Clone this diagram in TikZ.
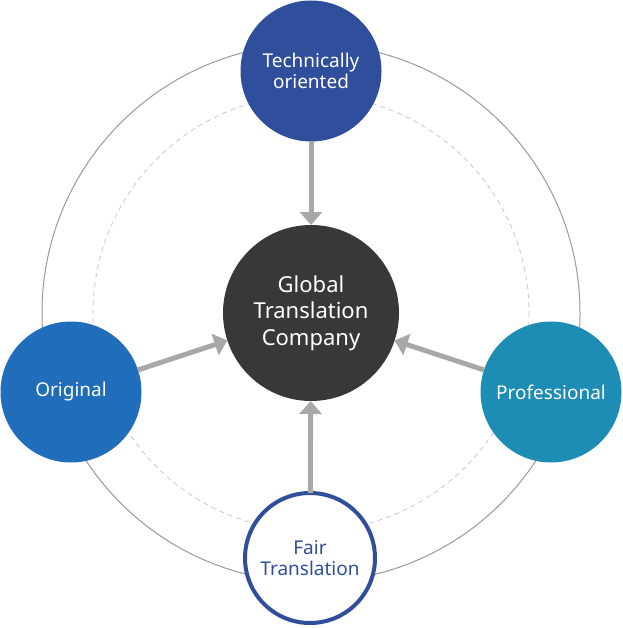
\documentclass[tikz,border=0pt]{standalone}
\usepackage{fontspec}
\setmainfont{Noto Sans}
\usetikzlibrary{arrows.meta}

\definecolor{navyblue}{HTML}{2F4F9C}
\definecolor{midblue}{HTML}{1F6DBB}
\definecolor{tealblue}{HTML}{1E8DB5}
\definecolor{coredark}{HTML}{383838}
\definecolor{arrowgray}{HTML}{A8A8A8}
\definecolor{ringgray}{HTML}{999999}
\definecolor{dashgray}{HTML}{C8C8C8}

\begin{document}
\begin{tikzpicture}[
    x=1pt, y=-1pt,
    hub/.style      = {circle, fill=coredark, minimum size=176pt,
                       inner sep=0pt, outer sep=0pt, text=white,
                       align=center, font=\fontsize{22}{26.5}\selectfont},
    pillar/.style   = {circle, minimum size=141pt, inner sep=0pt,
                       outer sep=0pt, text=white, align=center,
                       font=\fontsize{19}{20.5}\selectfont},
    hollow/.style   = {circle, fill=white, draw=navyblue, line width=4pt,
                       minimum size=130pt, inner sep=0pt, outer sep=0pt,
                       text=navyblue, align=center,
                       font=\fontsize{19}{21}\selectfont},
    feed/.style     = {-{Triangle[width=22pt,length=13pt]},
                       line width=5pt, draw=arrowgray},
    ring/.style     = {draw=ringgray, line width=1pt},
    dashring/.style = {draw=dashgray, line width=0.8pt,
                       dash pattern=on 5pt off 4pt},
]
\useasboundingbox (0,0) rectangle (622,628);

% ============================================================
%  BACKGROUND RINGS
% ============================================================
\coordinate (mid) at (311,313);
\draw[ring]     (mid) circle (269);
\draw[dashring] (mid) circle (218);

% ============================================================
%  NODES
% ============================================================
\node[hub] (core) at (mid) {Global\\Translation\\Company};

\node[pillar, fill=navyblue] (tech) at (311,71)  {Technically\\oriented};
\node[pillar, fill=midblue]  (orig) at (71,392)  {Original};
\node[pillar, fill=tealblue] (prof) at (551,392) {Professional};
\node[hollow]                (fair) at (310,558) {Fair\\Translation};

% ============================================================
%  ARROWS INTO THE CORE
% ============================================================
\draw[feed] (tech) -- (core);
\draw[feed] (orig) -- (core);
\draw[feed] (prof) -- (core);
\draw[feed] (fair) -- (core);

\end{tikzpicture}
\end{document}
